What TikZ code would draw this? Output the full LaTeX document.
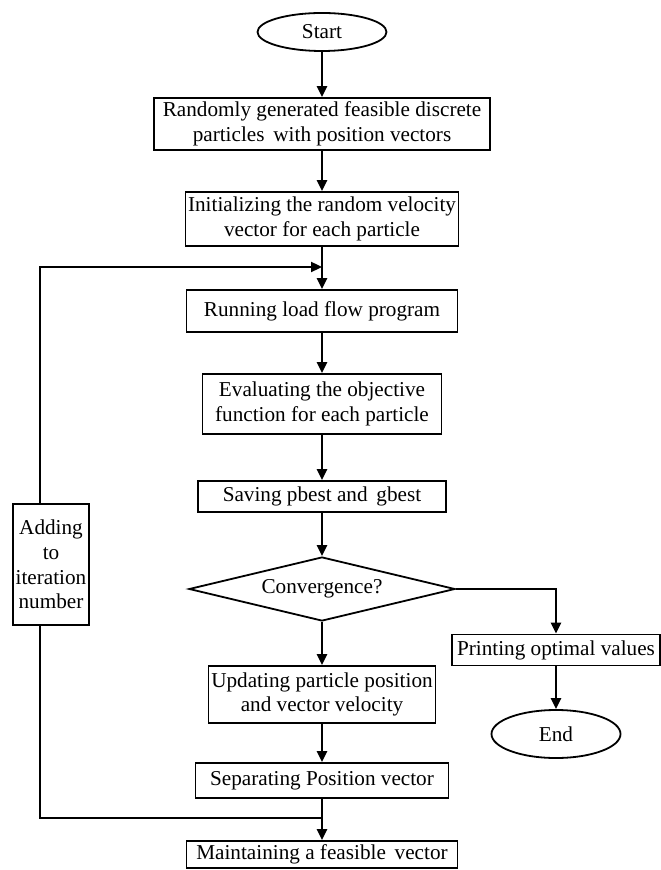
\documentclass[tikz,border=0pt]{standalone}
\usepackage{fontspec}
\setmainfont{Liberation Serif}
\usetikzlibrary{shapes.geometric,arrows.meta}

\begin{document}
\begin{tikzpicture}[x=0.5pt,y=-0.5pt,>={Triangle[length=5.5pt,width=5pt]}]
\tikzstyle{every node}=[font=\fontsize{10.6}{12.3}\selectfont,align=center,inner sep=1pt]
\tikzstyle{box}=[shape=rectangle,draw=black,line width=0.9pt]
\tikzstyle{term}=[shape=ellipse,draw=black,line width=0.9pt,inner sep=0pt]
\tikzstyle{flow}=[line width=1.15pt]

\useasboundingbox (0,0) rectangle (660,870);

\node[term,minimum width=64.5pt,minimum height=19pt] (A) at (322,32) {Start};
\node[box,minimum width=168pt,minimum height=26pt] (B) at (322,124) {Randomly generated feasible discrete\\particles\, with position vectors};
\node[box,minimum width=136.5pt,minimum height=27pt] (C) at (322,219) {Initializing the random velocity\\vector for each particle};
\node[box,minimum width=135.5pt,minimum height=21pt] (D) at (322,311) {Running load flow program};
\node[box,minimum width=119.5pt,minimum height=30pt] (E) at (322,404) {Evaluating the objective\\function for each particle};
\node[box,minimum width=124pt,minimum height=15.5pt] (F) at (322,496.5) {Saving pbest and\, gbest};
\node[shape=diamond,aspect=4.2,draw=black,line width=0.9pt,inner sep=0pt,minimum width=133pt,minimum height=32pt] (G) at (322,589) {Convergence?};
\node[box,minimum width=113.5pt,minimum height=28.5pt] (H) at (322,694.5) {Updating particle position\\and vector velocity};
\node[box,minimum width=126.5pt,minimum height=17.5pt] (I) at (322,780.5) {Separating Position vector};
\node[box,minimum width=135.5pt,minimum height=13.5pt] (J) at (322,854.5) {Maintaining a feasible\, vector};
\node[box,minimum width=104pt,minimum height=15.5pt] (K) at (556,650) {Printing optimal values};
\node[term,minimum width=64.5pt,minimum height=24pt] (L) at (556,734) {End};
\node[box,minimum width=38pt,minimum height=60.5pt,inner sep=0.5pt] (M) at (51,564.5) {Adding\\to\\iteration\\number};

\coordinate (jb) at (322,818);
\coordinate (lb) at (40,818);
\coordinate (lt) at (40,267);
\coordinate (jt) at (322,267);

\path [->,flow] (A) edge (B);
\path [->,flow] (B) edge (C);
\path [->,flow] (C) edge (D);
\path [->,flow] (D) edge (E);
\path [->,flow] (E) edge (F);
\path [->,flow] (F) edge (G);
\path [->,flow] (G) edge (H);
\path [->,flow] (H) edge (I);
\path [->,flow] (I) edge (J);
\draw [->,flow] (G.east) -| (K.north);
\path [->,flow] (K) edge (L);

\draw [flow] (jb) -- (lb) -- (M.south -| lb);
\draw [->,flow] (M.north -| lb) -- (lt) -- (jt);

\end{tikzpicture}
\end{document}
